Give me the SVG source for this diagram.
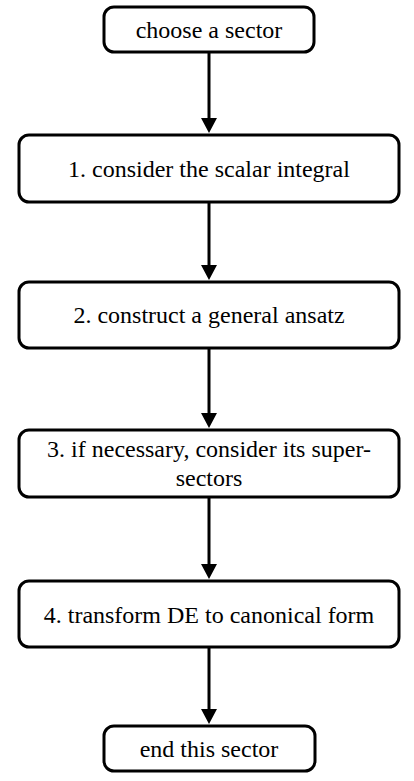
<svg xmlns="http://www.w3.org/2000/svg" width="414" height="781" viewBox="0 0 414 781">
<style>
.box{fill:#fff;stroke:#000;stroke-width:3}
.lbl{font-family:'Liberation Serif','Times New Roman',serif;font-size:24px;fill:#000;text-anchor:middle}
.edge{stroke:#000;stroke-width:3;fill:none}
.head{fill:#000}
</style>
<rect width="414" height="781" fill="#fff"/>
<g id="connectors">
<line class="edge" x1="209" y1="52" x2="209" y2="120"/><polygon class="head" points="201,118 217,118 209,133"/>
<line class="edge" x1="209" y1="202" x2="209" y2="267"/><polygon class="head" points="201,265 217,265 209,280"/>
<line class="edge" x1="209" y1="348" x2="209" y2="415"/><polygon class="head" points="201,413 217,413 209,428"/>
<line class="edge" x1="209" y1="498" x2="209" y2="566"/><polygon class="head" points="201,564 217,564 209,579"/>
<line class="edge" x1="209" y1="647" x2="209" y2="711"/><polygon class="head" points="201,709 217,709 209,724"/>
</g>
<g id="start"><rect class="box" x="104" y="7" width="210" height="45" rx="10"/><text class="lbl" x="209" y="38">choose a sector</text></g>
<g id="step1"><rect class="box" x="19" y="135" width="380" height="67" rx="10"/><text class="lbl" x="209" y="177">1. consider the scalar integral</text></g>
<g id="step2"><rect class="box" x="19" y="282" width="380" height="66" rx="10"/><text class="lbl" x="209" y="323">2. construct a general ansatz</text></g>
<g id="step3"><rect class="box" x="19" y="430" width="380" height="67" rx="10"/><text class="lbl" x="209" y="457">3. if necessary, consider its super-</text><text class="lbl" x="209" y="486">sectors</text></g>
<g id="step4"><rect class="box" x="19" y="581" width="380" height="66" rx="10"/><text class="lbl" x="209" y="623">4. transform DE to canonical form</text></g>
<g id="end"><rect class="box" x="104" y="726" width="211" height="45" rx="10"/><text class="lbl" x="209" y="757">end this sector</text></g>
</svg>
